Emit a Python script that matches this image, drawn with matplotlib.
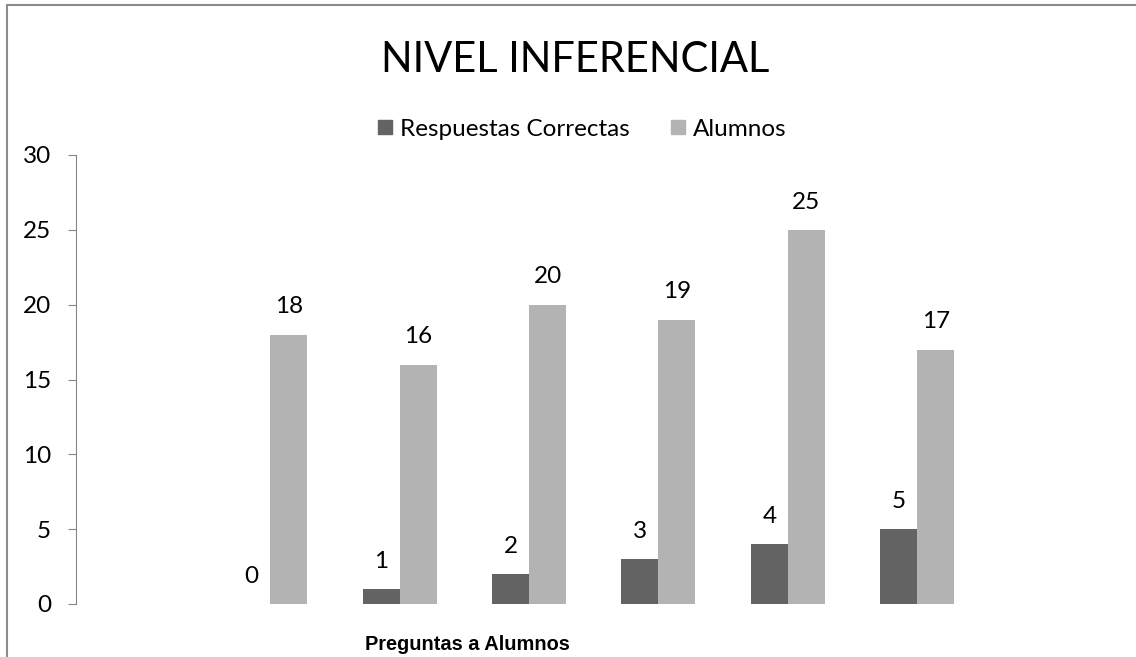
import matplotlib
matplotlib.use("Agg")
import matplotlib.pyplot as plt
import numpy as np
from matplotlib.patches import Rectangle
from matplotlib.lines import Line2D

categories = ["", "", "", "", "", "", ""]
correctas = [np.nan, 0, 1, 2, 3, 4, 5]
alumnos = [np.nan, 18, 16, 20, 19, 25, 17]
series_names = ["Respuestas Correctas", "Alumnos"]
title = "NIVEL INFERENCIAL"
xlabel = "Preguntas a Alumnos"
yticks = [0, 5, 10, 15, 20, 25, 30]

dark = "#636363"
light = "#b3b3b3"
FONT = "Lato"

W, H = 1136, 657
fig = plt.figure(figsize=(W / 100, H / 100), dpi=100)
ax = fig.add_axes([76 / W, 1 - 604 / H, (982 - 76) / W, (604 - 155) / H])

x = np.arange(len(categories))
bw = 0.286
b1 = ax.bar(x - bw / 2, correctas, bw, color=dark, label=series_names[0])
b2 = ax.bar(x + bw / 2, alumnos, bw, color=light, label=series_names[1])

for bars, vals in ((b1, correctas), (b2, alumnos)):
    for rect, v in zip(bars, vals):
        if np.isnan(v):
            continue
        ax.annotate(f"{int(v)}", (rect.get_x() + rect.get_width() / 2, v),
                    xytext=(0, 20), textcoords="offset points",
                    ha="center", va="center", fontsize=17.5, family=FONT, color="black")

ax.set_xlim(-0.5, len(categories) - 0.5)
ax.set_ylim(0, 30)
ax.set_yticks(yticks)
ax.set_yticklabels([str(t) for t in yticks], family=FONT, fontsize=17.5)
ax.set_xticks([])
for s in ("top", "right", "bottom"):
    ax.spines[s].set_visible(False)
ax.spines["left"].set_color("#868686")
ax.tick_params(axis="y", direction="out", length=6, color="#868686", pad=12)

fig.text(575 / W, 1 - 60 / H, title, ha="center", va="center", fontsize=30, family=FONT)
fig.text(467 / W, 1 - 645 / H, xlabel, ha="center", va="center", fontsize=14.4,
         family="Liberation Sans", fontweight="bold")

handles = [Line2D([], [], marker="s", linestyle="none", markersize=10, color=dark),
           Line2D([], [], marker="s", linestyle="none", markersize=10, color=light)]
fig.legend(handles, series_names, loc="center", bbox_to_anchor=(582 / W, 1 - 129 / H),
           ncol=2, frameon=False, prop={"family": FONT, "size": 17.5},
           handlelength=0.6, handletextpad=0.3, columnspacing=1.7)

fig.patches.append(Rectangle((7 / W, -0.1), 1.2, 1 - 5 / H + 0.1, transform=fig.transFigure,
                             fill=False, edgecolor="#8c8c8c", linewidth=1.5))

fig.savefig("out.png", dpi=100, facecolor="white")
